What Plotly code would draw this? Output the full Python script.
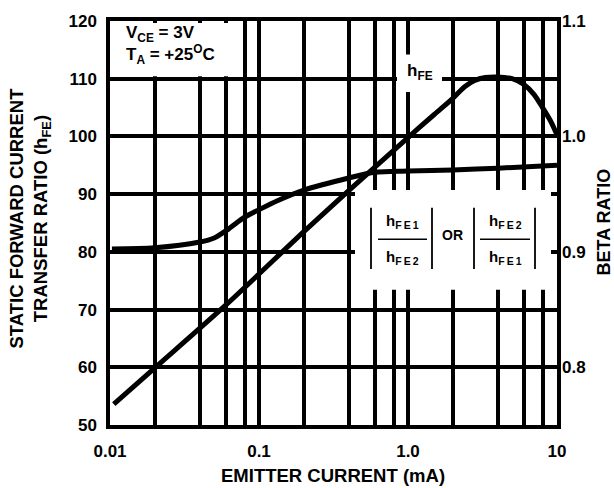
import plotly.graph_objects as go

# ---- data ----
hfe_current = [0.0106, 0.02, 0.06, 0.2, 0.4, 1.0, 1.5, 2.0, 2.4, 2.8, 3.3, 4.0, 5.0, 6.0, 7.0, 8.0, 9.0, 10.0]
hfe_values = [53.6, 59.9, 70.8, 83.5, 90.6, 99.8, 103.8, 106.6, 108.6, 109.7, 110.2, 110.3, 110.0, 109.0, 107.3, 105.0, 102.8, 100.3]

ratio_current = [0.0103, 0.02, 0.04, 0.05, 0.062, 0.08, 0.1, 0.134, 0.2, 0.4, 0.6, 1.0, 2.0, 4.0, 10.0]
beta_ratio = [0.9025, 0.9035, 0.9085, 0.912, 0.9195, 0.930, 0.9365, 0.9445, 0.9535, 0.964, 0.969, 0.970, 0.971, 0.9725, 0.975]

x_tickvals = [0.01, 0.1, 1.0, 10]
x_ticktext = ["0.01", "0.1", "1.0", "10"]
x_minor_grid = [0.02, 0.04, 0.06, 0.08, 0.2, 0.4, 0.6, 0.8, 2, 4, 6, 8]
y_tickvals = [50, 60, 70, 80, 90, 100, 110, 120]
y2_tickvals = [0.8, 0.9, 1.0, 1.1]
y2_ticktext = ["0.8", "0.9", "1.0", "1.1"]

# ---- layout geometry ----
W, H = 614, 488
L, R, T, B = 110, 57, 16, 63
PW, PH = W - L - R, H - T - B


def px(x):
    return (x - L) / PW


def py(y):
    return (H - B - y) / PH


FONT = "Liberation Sans, Arial, Helvetica, sans-serif"
fig = go.Figure()

fig.add_trace(go.Scatter(x=hfe_current, y=hfe_values, mode="lines",
                         line=dict(color="black", width=5, shape="spline", smoothing=0.8),
                         hoverinfo="skip", showlegend=False))
fig.add_trace(go.Scatter(x=ratio_current, y=beta_ratio, mode="lines", yaxis="y2",
                         line=dict(color="black", width=5, shape="spline", smoothing=0.8),
                         hoverinfo="skip", showlegend=False))

axis_common = dict(showgrid=True, gridcolor="black", gridwidth=3.5, showline=True,
                   linecolor="black", linewidth=3.5, zeroline=False, ticks="",
                   tickfont=dict(family=FONT, size=17, color="black", weight="bold"))

fig.update_layout(
    width=W, height=H,
    margin=dict(l=L, r=R, t=T, b=B),
    paper_bgcolor="white", plot_bgcolor="white",
    font=dict(family=FONT, color="black", weight="bold"),
    xaxis=dict(type="log", range=[-2, 1], tickvals=x_tickvals, ticktext=x_ticktext,
               minor=dict(tickvals=x_minor_grid, showgrid=True, gridcolor="black",
                          gridwidth=3.5, ticks=""),
               mirror=True, ticklabelstandoff=8, **axis_common),
    yaxis=dict(range=[50, 120], tickvals=y_tickvals, mirror=True,
               ticklabelstandoff=6, **axis_common),
    yaxis2=dict(overlaying="y", side="right", range=[0.75, 1.1], tickvals=y2_tickvals,
                ticktext=y2_ticktext, showgrid=False, showline=False, zeroline=False,
                ticks="", ticklabelstandoff=4,
                tickfont=dict(family=FONT, size=17, color="black", weight="bold")),
)

shapes = []
# white boxes that interrupt the grid
for x0, x1, y0, y1 in [(112, 240, 18, 72), (397, 442, 50, 88), (355, 551, 187, 288)]:
    shapes.append(dict(type="rect", xref="paper", yref="paper", x0=px(x0), x1=px(x1),
                       y0=py(y1), y1=py(y0), fillcolor="white", line=dict(width=0),
                       layer="above"))
# absolute-value bars and fraction lines
for xb in [371, 432, 474, 535]:
    shapes.append(dict(type="line", xref="paper", yref="paper", x0=px(xb), x1=px(xb),
                       y0=py(205), y1=py(267), line=dict(color="black", width=1.8),
                       layer="above"))
for xa, xb in [(378, 427), (480, 530)]:
    shapes.append(dict(type="line", xref="paper", yref="paper", x0=px(xa), x1=px(xb),
                       y0=py(237), y1=py(237), line=dict(color="black", width=1.5),
                       layer="above"))
fig.update_layout(shapes=shapes)

ann = []


def add_text(text, x, y, size, xanchor="center", yanchor="middle", angle=0, align="center"):
    ann.append(dict(text=text, xref="paper", yref="paper", x=px(x), y=py(y),
                    xanchor=xanchor, yanchor=yanchor, showarrow=False, textangle=angle,
                    align=align, font=dict(family=FONT, size=size, color="black", weight="bold")))


add_text("V<sub>CE</sub> = 3V<br>T<sub>A</sub> = +25<sup>O</sup>C", 124, 16, 17,
         xanchor="left", yanchor="top", align="left")
add_text("h<sub>FE</sub>", 420, 68, 17)
add_text("h<sub>F\u2009E\u20091</sub>", 402, 219, 15)
add_text("h<sub>F\u2009E\u20092</sub>", 402, 255, 15)
add_text("OR", 452, 233, 14)
add_text("h<sub>F\u2009E\u20092</sub>", 505, 219, 15)
add_text("h<sub>F\u2009E\u20091</sub>", 505, 255, 15)
add_text("EMITTER CURRENT (mA)", 333, 476, 18.5)
add_text("STATIC FORWARD CURRENT<br>TRANSFER RATIO (h<sub>FE</sub>)", 30, 216, 18.5, angle=-90)
add_text("BETA RATIO", 604, 220, 18, angle=-90)
fig.update_layout(annotations=ann)

fig.write_html("out.html", config={"displayModeBar": False},
               post_script="document.body.style.margin='0px';")
